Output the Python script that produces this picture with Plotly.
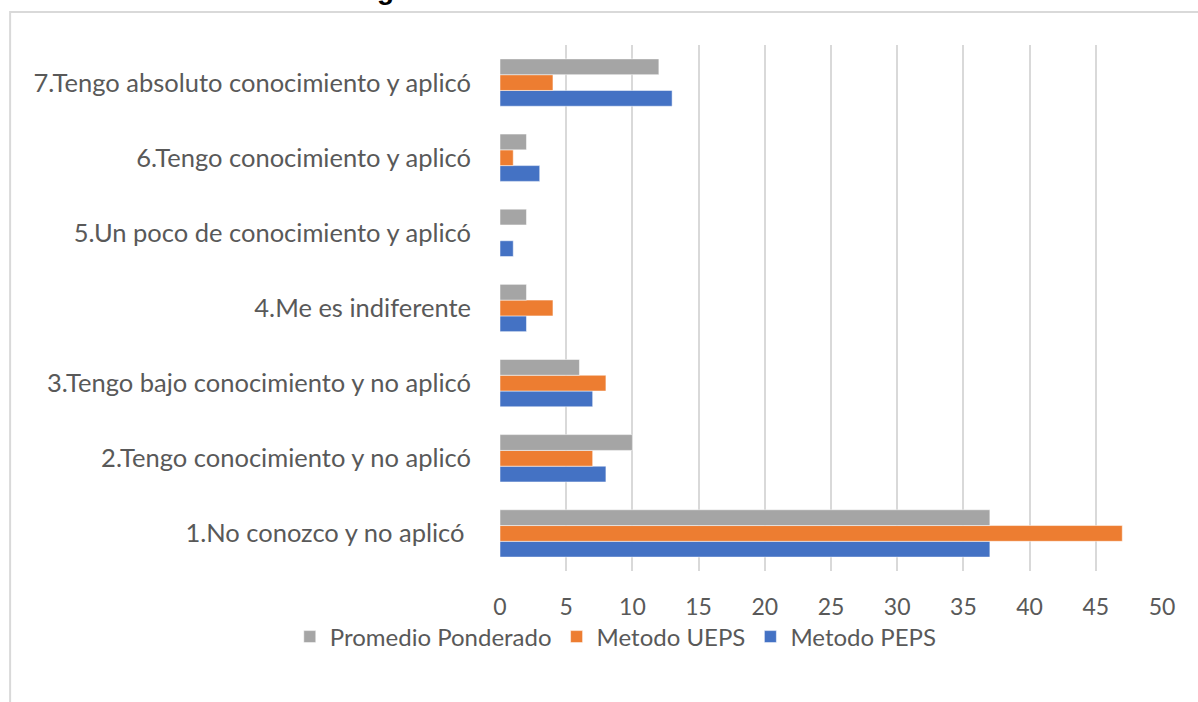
import plotly.graph_objects as go

categories = [
    "1.No conozco y no aplicó ",
    "2.Tengo conocimiento y no aplicó",
    "3.Tengo bajo conocimiento y no aplicó",
    "4.Me es indiferente",
    "5.Un poco de conocimiento y aplicó",
    "6.Tengo conocimiento y aplicó",
    "7.Tengo absoluto conocimiento y aplicó",
]
peps = [37, 8, 7, 2, 1, 3, 13]
ueps = [47, 7, 8, 4, 0, 1, 4]
promedio = [37, 10, 6, 2, 2, 2, 12]
x_ticks = list(range(0, 55, 5))

series = [
    ("Metodo PEPS", peps, "#4472C4"),
    ("Metodo UEPS", ueps, "#ED7D31"),
    ("Promedio Ponderado", promedio, "#A5A5A5"),
]

fig = go.Figure()
for name, vals, color in series:
    fig.add_trace(go.Bar(
        y=categories,
        x=vals,
        name=name,
        orientation="h",
        marker=dict(color=color, line=dict(color="rgba(255,255,255,0.5)", width=1)),
    ))

# chart border (cut off at the right and bottom like the source picture)
fig.add_shape(
    type="rect", xref="paper", yref="paper",
    x0=-0.74, x1=1.2, y0=-0.4, y1=1.0626,
    line=dict(color="#D9D9D9", width=2), layer="below",
)

# title fragment, mostly cut off at the top edge
fig.add_annotation(
    text="<b>Figura</b>", xref="paper", yref="paper",
    x=-0.158, y=1.073, xanchor="center", yanchor="bottom",
    showarrow=False, font=dict(family="Liberation Sans", size=28, color="#000000"),
)

fig.update_layout(
    width=1198,
    height=702,
    margin=dict(l=500, r=36, t=45, b=131, autoexpand=False),
    paper_bgcolor="white",
    plot_bgcolor="white",
    barmode="group",
    bargap=0.37,
    bargroupgap=0,
    font=dict(family="Lato", size=25, color="#595959"),
    legend=dict(
        orientation="h", xref="container", yref="container",
        x=0.514, y=0.0926, xanchor="center", yanchor="middle",
        bgcolor="rgba(0,0,0,0)", traceorder="reversed", itemwidth=30,
        font=dict(size=24, color="#595959"),
    ),
    xaxis=dict(
        range=[0, 50], tickvals=x_ticks, showgrid=True, gridcolor="#D9D9D9",
        gridwidth=2, zeroline=False, showline=False, ticklabelstandoff=20,
        tickfont=dict(size=23), fixedrange=True,
    ),
    yaxis=dict(
        showgrid=False, zeroline=False, showline=False, ticklabelstandoff=28,
        fixedrange=True, tickfont=dict(size=25.5),
    ),
)

fig.write_html(
    "out.html",
    config={"displayModeBar": False},
    post_script="document.body.style.margin='0';",
)
